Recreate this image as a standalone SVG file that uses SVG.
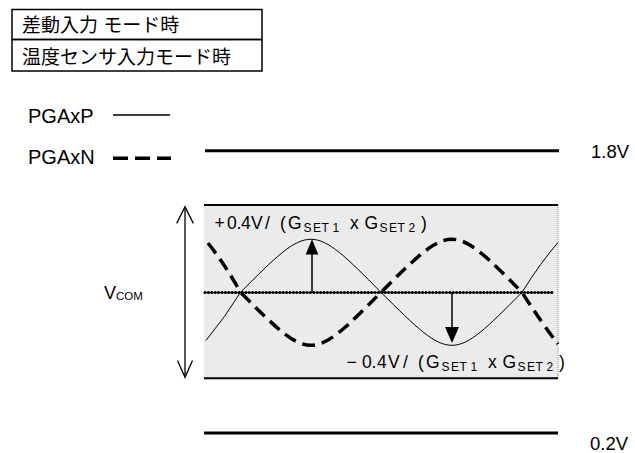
<svg xmlns="http://www.w3.org/2000/svg" width="635" height="453" viewBox="0 0 635 453">
  <style>
    .t { font-family: "Liberation Sans", Arial, sans-serif; fill: #000; }
    .jp { font-family: "Liberation Sans", "Noto Sans CJK JP", sans-serif; font-size: 19px; fill: #000; }
    .m { font-size: 17.5px; }
    .s { font-size: 12px; }
    .ln { stroke: #000; fill: none; }
  </style>
  <rect width="635" height="453" fill="#fff"/>

  <g id="mode-box">
    <rect x="12" y="9.5" width="250" height="30" fill="none" stroke="#000" stroke-width="1.5"/>
    <rect x="12" y="39.5" width="250" height="31.5" fill="none" stroke="#000" stroke-width="1.5"/>
    <text class="jp" x="22" y="32">差動入力 モード時</text>
    <text class="jp" x="22" y="64">温度センサ入力モード時</text>
  </g>

  <g id="legend">
    <text class="t" x="28" y="123.3" font-size="20">PGAxP</text>
    <line class="ln" x1="113" y1="115" x2="170" y2="115" stroke-width="1.5"/>
    <text class="t" x="28" y="163.5" font-size="20">PGAxN</text>
    <line class="ln" x1="113" y1="158.3" x2="171" y2="158.3" stroke-width="3.5" stroke-dasharray="15 7"/>
  </g>

  <g id="rail-1v8">
    <line class="ln" x1="205" y1="150.7" x2="559" y2="150.7" stroke-width="3"/>
    <text class="t" x="591" y="158.3" font-size="18.5">1.8V</text>
  </g>

  <g id="rail-0v2">
    <line class="ln" x1="204" y1="433" x2="558" y2="433" stroke-width="3"/>
    <text class="t" x="590" y="450" font-size="18.5">0.2V</text>
  </g>

  <g id="signal-area">
    <rect x="204" y="205" width="354" height="173" fill="#ebebeb"/>
    <line x1="558" y1="205" x2="558" y2="378" stroke="#888" stroke-width="1" stroke-dasharray="1 1"/>
    <line class="ln" x1="204" y1="205" x2="558" y2="205" stroke-width="2"/>
    <line class="ln" x1="204" y1="378.3" x2="558" y2="378.3" stroke-width="2"/>
  </g>

  <g id="vcom">
    <text class="t" x="104" y="299" font-size="18">V<tspan font-size="11.5" dy="0.5">COM</tspan></text>
  </g>

  <g id="connectors">
    <!-- swing range arrow -->
    <line class="ln" x1="185" y1="207.5" x2="185" y2="376.5" stroke-width="1.3"/>
    <polyline class="ln" points="176.7,223.4 185,206.7 193.3,223.4" stroke-width="1.3"/>
    <polyline class="ln" points="177.5,360.6 185,377.3 192.5,360.6" stroke-width="1.3"/>

    <!-- VCOM dotted line -->
    <line class="ln" x1="204" y1="292.5" x2="553" y2="292.5" stroke-width="1.2"/>
    <line class="ln" x1="205" y1="292.5" x2="553" y2="292.5" stroke-width="3.2" stroke-dasharray="0 3.4" stroke-linecap="round"/>

    <!-- PGAxP (thin) -->
    <path class="ln" d="M206,340.5 Q226,316 240.5,292.3 C311,221.6 311,221.6 381,292.3 C452,363 452,363 522,292.3 Q541,262 558,242.5" stroke-width="1"/>
    <!-- PGAxN (dashed) -->
    <path class="ln" d="M208,243 Q226,266 240.5,292.3 C311,363 311,363 381,292.3 C452,221.6 452,221.6 522,292.3 Q541,322 558,344" stroke-width="3.5" stroke-dasharray="13 7"/>

    <!-- amplitude arrows -->
    <line class="ln" x1="312" y1="292.5" x2="312" y2="253" stroke-width="1.5"/>
    <polygon points="312,239.3 305.7,254.5 318.3,254.5" fill="#000"/>
    <line class="ln" x1="452" y1="292.5" x2="452" y2="328" stroke-width="1.5"/>
    <polygon points="452,343 445,327 459,327" fill="#000"/>
  </g>

  <g id="label-plus">
    <text class="t m" x="214.5 227 236.5 241 251 265 280" y="229">+0.4V/(</text>
    <text class="t m" x="288" y="229">G</text>
    <text class="t s" x="303.5 313 321.5 332.5" y="232">SET1</text>
    <text class="t m" x="350" y="229">x</text>
    <text class="t m" x="364.5" y="229">G</text>
    <text class="t s" x="379.5 389 397.5 408.5" y="232">SET2</text>
    <text class="t m" x="421" y="229">)</text>
  </g>

  <g id="label-minus">
    <text class="t m" x="346.5 362 371.5 377 388 403 418" y="368">−0.4V/(</text>
    <text class="t m" x="426" y="368">G</text>
    <text class="t s" x="441.5 451 459.5 470.5" y="371">SET1</text>
    <text class="t m" x="488" y="368">x</text>
    <text class="t m" x="502.5" y="368">G</text>
    <text class="t s" x="517.5 527 535.5 546.5" y="371">SET2</text>
    <text class="t m" x="559" y="368">)</text>
  </g>
</svg>
